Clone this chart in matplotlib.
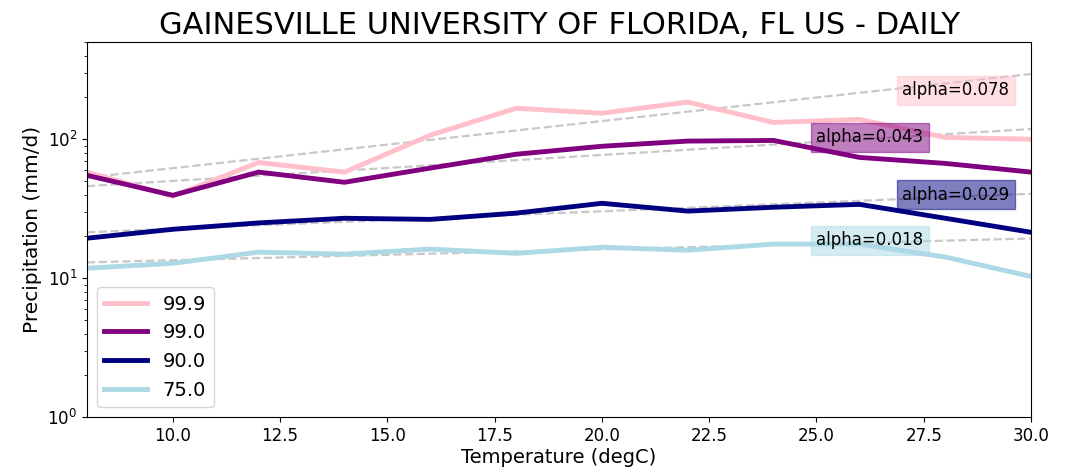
import numpy as np
import matplotlib
matplotlib.use("Agg")
import matplotlib.pyplot as plt

# temperature bins (degC)
temps = [8, 10, 12, 14, 16, 18, 20, 22, 24, 26, 28, 30]

# precipitation percentiles (mm/d)
p999 = [58, 39, 68, 58, 107, 167, 154, 185, 132, 139, 103, 100]
p990 = [55, 39.5, 58, 49, 62, 78, 89, 97, 98, 74, 67, 58]
p900 = [19.4, 22.5, 25, 27, 26.5, 29.4, 34.6, 30.4, 32.4, 34, 27, 21.4]
p750 = [11.8, 12.8, 15.4, 14.9, 16.2, 15.1, 16.7, 15.9, 17.6, 17.6, 14.2, 10.3]

labels = ["99.9", "99.0", "90.0", "75.0"]
colors = ["pink", "purple", "navy", "lightblue"]

# scaling fits: rate and value at the first bin
fit_alpha = [0.078, 0.043, 0.029, 0.018]
fit_start = [53, 46, 21.4, 13.0]

# where the alpha labels go
label_x = [27, 25, 27, 25]
label_y = [225, 103, 40, 18.8]

series = [p999, p990, p900, p750]

fig = plt.figure(figsize=(10.74, 4.73), dpi=100)
ax = fig.add_axes([0.081, 0.118, 0.879, 0.793])

T = np.array(temps, dtype=float)
for vals, lab, col in zip(series, labels, colors):
    ax.plot(temps, vals, color=col, lw=3.5, label=lab)

for a, c0, col, tx, ty in zip(fit_alpha, fit_start, colors, label_x, label_y):
    fit = c0 * np.exp(a * (T - T[0]))
    ax.plot(T, fit, ls="--", color="#c8c8c8", lw=1.6, zorder=1)
    ax.text(tx, ty, "alpha=%.3f" % a, fontsize=12, ha="left", va="center",
            bbox=dict(facecolor=col, alpha=0.5, edgecolor=col))

ax.set_yscale("log")
ax.set_xlim(8, 30)
ax.set_ylim(1, 500)
ax.set_xticks([10, 12.5, 15, 17.5, 20, 22.5, 25, 27.5, 30])
ax.set_xticklabels(["10.0", "12.5", "15.0", "17.5", "20.0", "22.5", "25.0", "27.5", "30.0"])
ax.tick_params(labelsize=12)
ax.set_xlabel("Temperature (degC)", fontsize=14, labelpad=2)
ax.set_ylabel("Precipitation (mm/d)", fontsize=14.5)
ax.set_title("GAINESVILLE UNIVERSITY OF FLORIDA, FL US - DAILY", fontsize=22)
ax.legend(loc="lower left", fontsize=14, handlelength=2.2)

fig.savefig("out.png", dpi=100)
